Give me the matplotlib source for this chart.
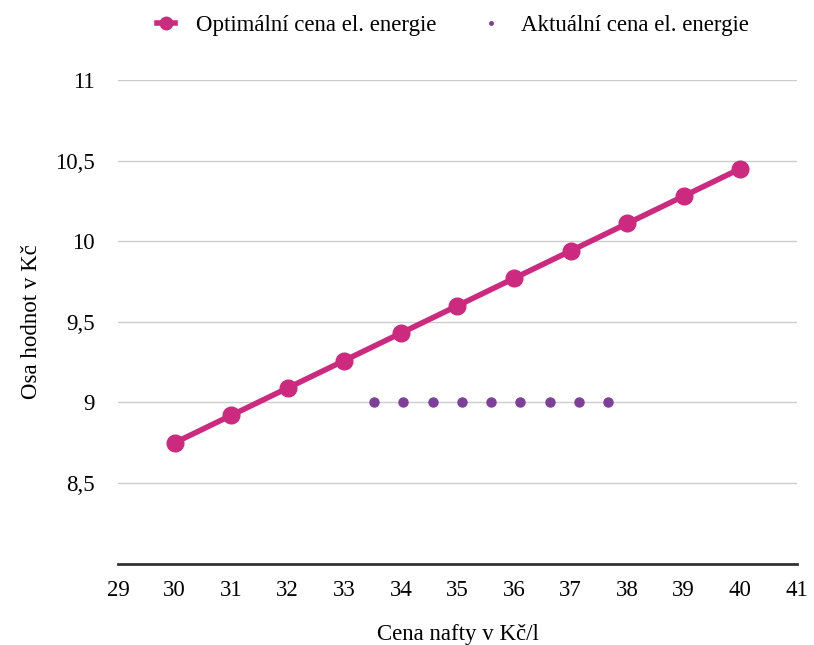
import matplotlib.pyplot as plt
from matplotlib.lines import Line2D
from matplotlib.ticker import FuncFormatter

plt.rcParams['font.family'] = ['Liberation Serif', 'DejaVu Serif']

# optimalni cena
nafta = [30, 31, 32, 33, 34, 35, 36, 37, 38, 39, 40]
optimalni = [8.75, 8.92, 9.09, 9.26, 9.43, 9.60, 9.77, 9.94, 10.11, 10.28, 10.45]

# aktualni cena
nafta_akt = [33.53, 34.04, 34.56, 35.08, 35.60, 36.11, 36.63, 37.14, 37.66]
aktualni = [9, 9, 9, 9, 9, 9, 9, 9, 9]

pink = '#cc2a7f'
purple = '#7e3f98'
fs = 16.5

fig = plt.figure(figsize=(8.14, 6.45), dpi=100)
ax = fig.add_axes([0.145, 0.126, 0.834, 0.75])

ax.plot(nafta, optimalni, color=pink, lw=4, marker='o', ms=12, zorder=3)
ax.plot(nafta_akt, aktualni, ls='none', color=purple, marker='o', ms=6.5, zorder=3)

ax.set_xlim(29, 41)
ax.set_ylim(8, 11)
ax.set_xticks(range(29, 42))
ax.set_yticks([8, 8.5, 9, 9.5, 10, 10.5, 11])
ax.yaxis.set_major_formatter(FuncFormatter(
    lambda v, p: '' if v == 8 else ('%g' % v).replace('.', ',')))

ax.grid(axis='y', color='#cccccc', lw=1)
ax.set_axisbelow(True)
for s in ['top', 'right', 'left']:
    ax.spines[s].set_visible(False)
ax.spines['bottom'].set_linewidth(2)
ax.spines['bottom'].set_color('#333333')
ax.tick_params(length=0, labelsize=fs, pad=12)
ax.tick_params(axis='y', pad=17)

ax.set_xlabel('Cena nafty v Kč/l', fontsize=fs, labelpad=16)
ax.set_ylabel('Osa hodnot v Kč', fontsize=fs, labelpad=9)

h1 = Line2D([], [], color=pink, lw=4, marker='o', ms=9)
h2 = Line2D([], [], ls='none', color=purple, marker='o', ms=2.5)
fig.legend([h1, h2], ['Optimální cena el. energie', 'Aktuální cena el. energie'],
           loc='center', bbox_to_anchor=(0.556, 0.96), ncol=2, frameon=False,
           fontsize=fs, handlelength=0.8, handletextpad=0.9, columnspacing=2.0)

fig.savefig('out.png')
